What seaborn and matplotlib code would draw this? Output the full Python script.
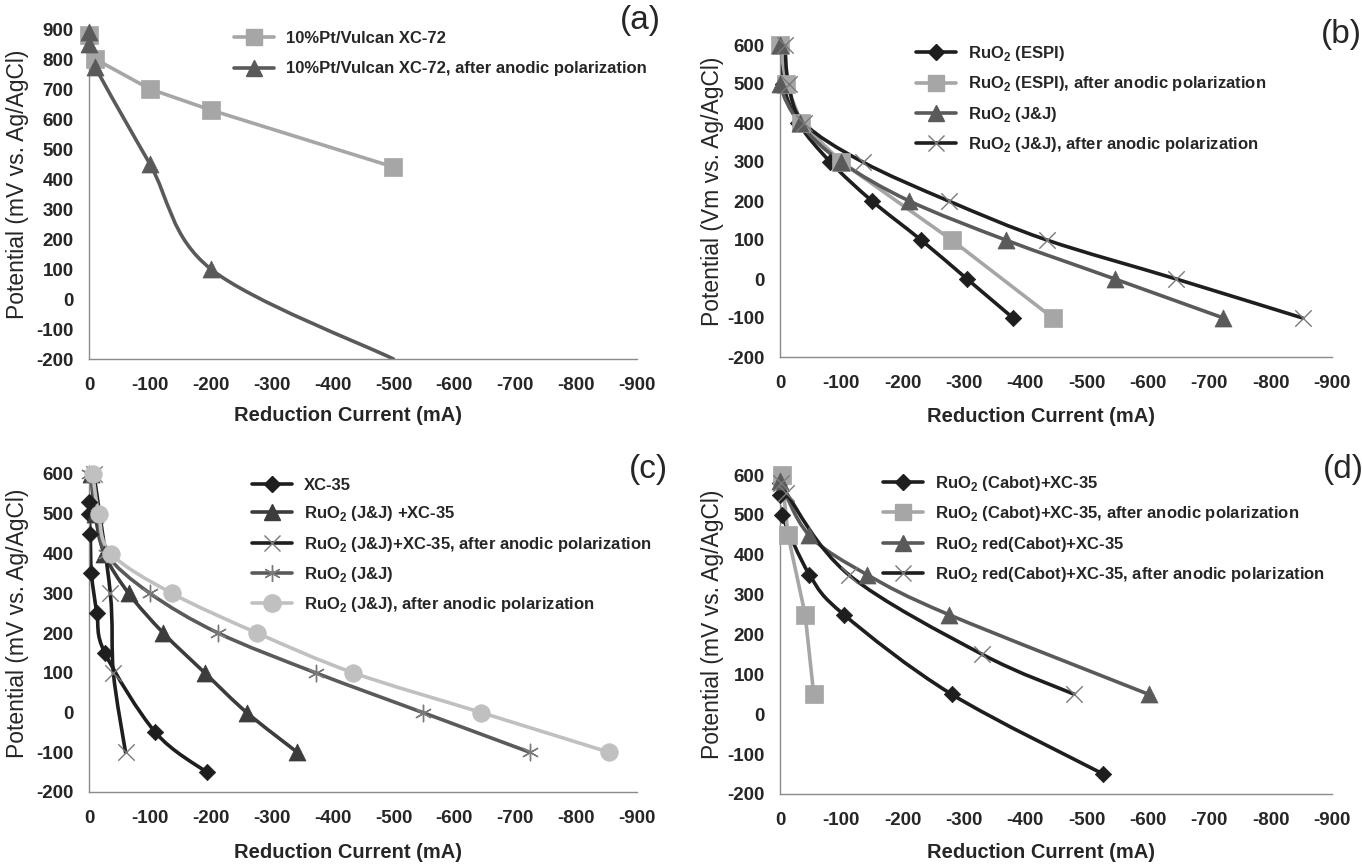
import numpy as np
import matplotlib
matplotlib.use("Agg")
import matplotlib.pyplot as plt
from matplotlib.path import Path
from matplotlib.patches import PathPatch
from matplotlib.lines import Line2D
import seaborn as sns

sns.set_style("white")
plt.rcParams['font.family'] = ['Liberation Sans', 'DejaVu Sans']
plt.rcParams['axes.unicode_minus'] = False

# ---------------- data ----------------
# panel (a)
a_pt_x = [0, -10, -100, -200, -500]
a_pt_y = [880, 800, 700, 630, 440]
a_pt_ap_x = [0, 0, -10, -100, -200, -500]
a_pt_ap_y = [890, 850, 775, 450, 100, -200]

# panel (b)
b_espi_x = [0, -5, -30, -82, -150, -230, -305, -380]
b_espi_y = [600, 500, 400, 300, 200, 100, 0, -100]
b_espi_ap_x = [0, -10, -35, -100, -280, -445]
b_espi_ap_y = [600, 500, 400, 300, 100, -100]
b_jj_x = [0, 0, -32, -100, -211, -368, -546, -723]
b_jj_y = [600, 500, 400, 300, 200, 100, 0, -100]
b_jj_ap_x = [-8, -14, -39, -135, -275, -435, -646, -852]
b_jj_ap_y = [600, 500, 400, 300, 200, 100, 0, -100]

# panel (c)
c_xc_x = [0, 0, -2, -4, -13, -26, -109, -193]
c_xc_y = [530, 500, 450, 350, 250, 150, -50, -150]
c_jjxc_x = [-3, -10, -25, -65, -122, -190, -259, -342]
c_jjxc_y = [600, 500, 400, 300, 200, 100, 0, -100]
c_jjxc_ap_x = [-8, -35, -40, -60]
c_jjxc_ap_y = [600, 300, 100, -100]
c_jj_x = [0, -15, -28, -100, -212, -372, -548, -724]
c_jj_y = [600, 500, 400, 300, 200, 100, 0, -100]
c_jj_ap_x = [-6, -16, -36, -136, -276, -434, -644, -854]
c_jj_ap_y = [600, 500, 400, 300, 200, 100, 0, -100]

# panel (d)
d_cab_x = [0, 0, -3, -48, -104, -280, -527]
d_cab_y = [580, 550, 500, 350, 250, 50, -150]
d_cab_ap_x = [-3, -13, -41, -55]
d_cab_ap_y = [600, 450, 250, 50]
d_red_x = [0, -47, -142, -275, -601]
d_red_y = [585, 450, 350, 250, 50]
d_red_ap_x = [-2, -10, -112, -330, -480]
d_red_ap_y = [580, 555, 350, 150, 50]

x_ticks = [0, -100, -200, -300, -400, -500, -600, -700, -800, -900]

# ---------------- style ----------------
BLACK = '#1e1e1e'
DARK = '#3c3c3c'
MID = '#5a5a5a'
LIGHT = '#a6a6a6'
LIGHTER = '#c0c0c0'
XGRAY = '#7a7a7a'
SPINE = '#8a8a8a'
LW = 2.6

W, H = 1362, 865
fig = plt.figure(figsize=(W / 100, H / 100), dpi=100)


def px_axes(x0, x1, ytop, ybot):
    ax = fig.add_axes([x0 / W, 1 - ybot / H, (x1 - x0) / W, (ybot - ytop) / H])
    ax._pxh = ybot - ytop
    ax._pxw = x1 - x0
    return ax


def smooth_path(xs, ys):
    P = np.column_stack([xs, ys]).astype(float)
    n = len(P)
    verts = [P[0]]
    codes = [Path.MOVETO]
    for i in range(n - 1):
        p0 = P[i - 1] if i > 0 else P[i]
        p1 = P[i]
        p2 = P[i + 1]
        p3 = P[i + 2] if i + 2 < n else P[i + 1]
        c1 = p1 + (p2 - p0) / 6.0
        c2 = p2 - (p3 - p1) / 6.0
        verts += [c1, c2, p2]
        codes += [Path.CURVE4] * 3
    return Path(verts, codes)


def series(ax, xs, ys, color, marker, s, smooth=True, mcolor=None, mlw=1.0,
           show_last=True):
    if smooth:
        ax.add_patch(PathPatch(smooth_path(xs, ys), fill=False, edgecolor=color,
                               lw=LW, capstyle='round', joinstyle='round', zorder=2))
    else:
        sns.lineplot(x=xs, y=ys, sort=False, estimator=None, color=color, lw=LW,
                     ax=ax, zorder=2)
    mx = xs if show_last else xs[:-1]
    my = ys if show_last else ys[:-1]
    mc = mcolor or color
    if marker in ('x', (6, 2, 0)):
        sns.scatterplot(x=mx, y=my, marker=marker, s=s, color=mc, linewidth=mlw,
                        ax=ax, zorder=3, clip_on=False)
    else:
        sns.scatterplot(x=mx, y=my, marker=marker, s=s, color=mc, edgecolor=mc,
                        linewidth=0.5, ax=ax, zorder=3, clip_on=False)


def handle(color, marker, ms, mcolor=None, mew=1.0):
    mc = mcolor or color
    return Line2D([], [], color=color, lw=LW, marker=marker, markersize=ms,
                  markerfacecolor=mc, markeredgecolor=mc, markeredgewidth=mew)


def style_axes(ax, ymax, letter, lx, ly, ylabel, xlab_y, ylab_x):
    ax.set_xlim(0, -900)
    ax.set_ylim(-200, ymax)
    ax.set_xticks(x_ticks)
    ax.set_yticks(list(range(-200, ymax + 1, 100)))
    for sp in ['top', 'right']:
        ax.spines[sp].set_visible(False)
    for sp in ['left', 'bottom']:
        ax.spines[sp].set_color(SPINE)
        ax.spines[sp].set_linewidth(1.0)
    ax.tick_params(axis='both', direction='out', length=5, width=1.0, color=SPINE,
                   labelsize=13.5, pad=6)
    for t in ax.get_xticklabels() + ax.get_yticklabels():
        t.set_fontweight('bold')
    ax.xaxis.set_tick_params(pad=8)
    ax.set_xlabel('Reduction Current (mA)', fontsize=14.5, fontweight='bold', va='center')
    ax.set_ylabel(ylabel, fontsize=16.5, fontweight='normal', va='center')
    ax.xaxis.set_label_coords(0.472, -xlab_y / ax._pxh)
    ax.yaxis.set_label_coords(-ylab_x / ax._pxw, 0.5 + 10 / ax._pxh)
    ax.set_facecolor('white')
    fig.text(lx / W, 1 - ly / H, letter, fontsize=24, ha='center', va='center')


def add_legend(ax, handles, labels, x, y, spacing=0.68):
    leg = ax.legend(handles, labels, loc='upper left',
                    bbox_to_anchor=(x / W, 1 - y / H), bbox_transform=fig.transFigure,
                    frameon=False, prop={'weight': 'bold', 'size': 12},
                    handlelength=2.4, handletextpad=0.7, labelspacing=spacing,
                    borderpad=0, borderaxespad=0)
    return leg


R = r'RuO$_\mathdefault{2}$'

# ---------------- panel (a) ----------------
axa = px_axes(89, 637, 29, 359)
series(axa, a_pt_x, a_pt_y, LIGHT, 's', 150, smooth=False)
series(axa, a_pt_ap_x, a_pt_ap_y, MID, '^', 150, smooth=True, show_last=False)
style_axes(axa, 900, '(a)', 640, 21, 'Potential (mV vs. Ag/AgCl)', 57, 71)
add_legend(axa, [handle(LIGHT, 's', 12), handle(MID, '^', 12)],
           ['10%Pt/Vulcan XC-72', '10%Pt/Vulcan XC-72, after anodic polarization'],
           234, 31, spacing=0.92)

# ---------------- panel (b) ----------------
axb = px_axes(780, 1332, 45, 357)
series(axb, b_espi_x, b_espi_y, BLACK, 'D', 70)
series(axb, b_espi_ap_x, b_espi_ap_y, LIGHT, 's', 150, smooth=False)
series(axb, b_jj_x, b_jj_y, MID, '^', 150)
series(axb, b_jj_ap_x, b_jj_ap_y, BLACK, 'x', 140, mcolor=XGRAY)
style_axes(axb, 600, '(b)', 1341, 35, 'Potential (Vm vs. Ag/AgCl)', 59, 67)
add_legend(axb, [handle(BLACK, 'D', 8), handle(LIGHT, 's', 12), handle(MID, '^', 12),
                 handle(BLACK, 'x', 12, mcolor=XGRAY)],
           [R + ' (ESPI)', R + ' (ESPI), after anodic polarization', R + ' (J&J)',
            R + ' (J&J), after anodic polarization'],
           916, 44)

# ---------------- panel (c) ----------------
axc = px_axes(89, 637, 474, 792)
series(axc, c_xc_x, c_xc_y, BLACK, 'D', 70)
series(axc, c_jjxc_x, c_jjxc_y, DARK, '^', 150)
series(axc, c_jjxc_ap_x, c_jjxc_ap_y, BLACK, 'x', 140, mcolor=XGRAY)
series(axc, c_jj_x, c_jj_y, MID, (6, 2, 0), 140, mcolor=XGRAY)
series(axc, c_jj_ap_x, c_jj_ap_y, LIGHTER, 'o', 160)
style_axes(axc, 600, '(c)', 648, 470, 'Potential (mV vs. Ag/AgCl)', 60, 71)
add_legend(axc, [handle(BLACK, 'D', 8), handle(DARK, '^', 12),
                 handle(BLACK, 'x', 12, mcolor=XGRAY), handle(MID, (6, 2, 0), 12, mcolor=XGRAY),
                 handle(LIGHTER, 'o', 12.5)],
           ['XC-35', R + ' (J&J) +XC-35', R + ' (J&J)+XC-35, after anodic polarization',
            R + ' (J&J)', R + ' (J&J), after anodic polarization'],
           252, 478)

# ---------------- panel (d) ----------------
axd = px_axes(780, 1332, 475, 794)
series(axd, d_cab_x, d_cab_y, BLACK, 'D', 70)
series(axd, d_cab_ap_x, d_cab_ap_y, LIGHT, 's', 150, smooth=False)
series(axd, d_red_x, d_red_y, MID, '^', 150)
series(axd, d_red_ap_x, d_red_ap_y, BLACK, 'x', 140, mcolor=XGRAY)
style_axes(axd, 600, '(d)', 1343, 470, 'Potential (mV vs. Ag/AgCl)', 59, 67)
add_legend(axd, [handle(BLACK, 'D', 8), handle(LIGHT, 's', 12), handle(MID, '^', 12),
                 handle(BLACK, 'x', 12, mcolor=XGRAY)],
           [R + ' (Cabot)+XC-35', R + ' (Cabot)+XC-35, after anodic polarization',
            R + ' red(Cabot)+XC-35', R + ' red(Cabot)+XC-35, after anodic polarization'],
           883, 474)

fig.savefig('out.png', dpi=100, facecolor='white')
